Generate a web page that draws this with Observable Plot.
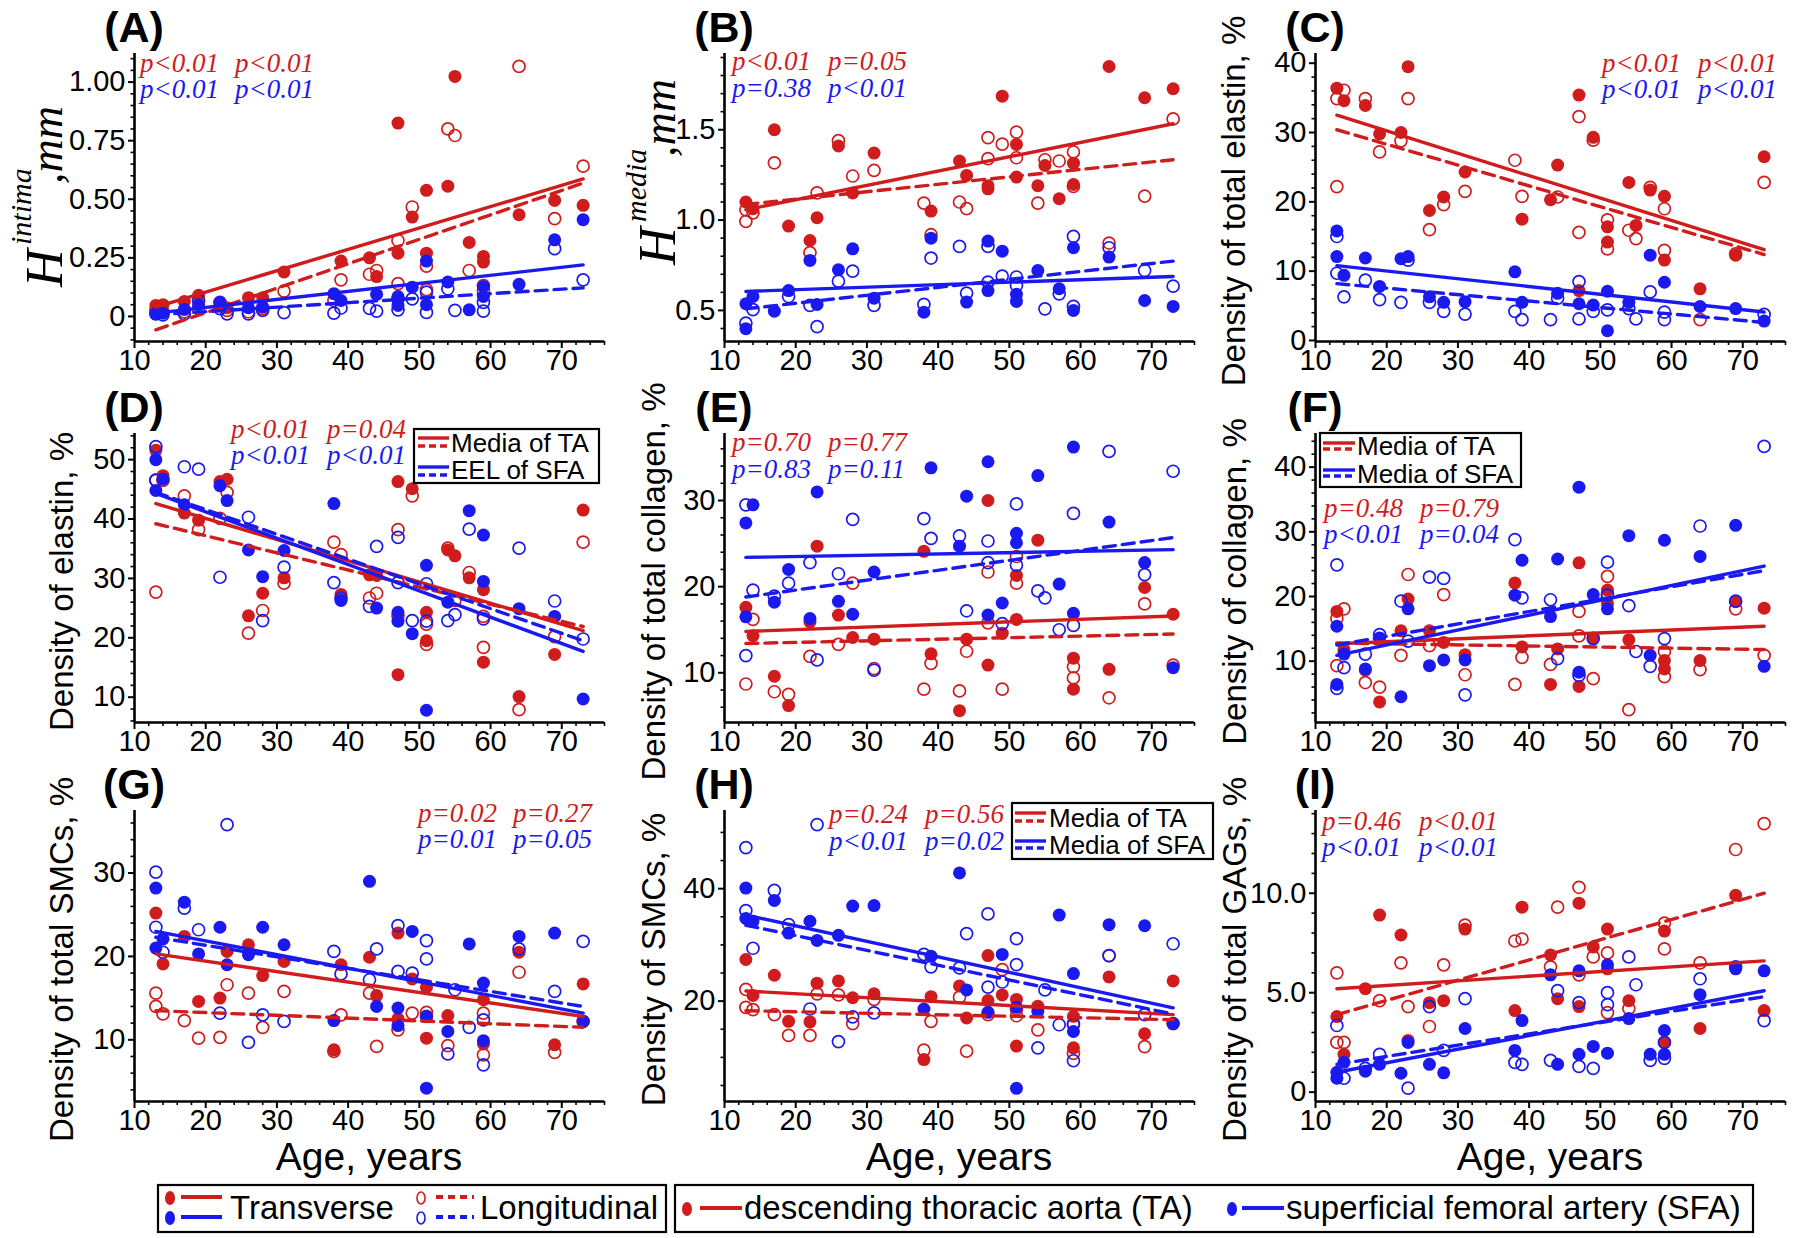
<!DOCTYPE html>
<html><head><meta charset="utf-8">
<script src="https://cdn.jsdelivr.net/npm/d3@7"></script>
<script src="https://cdn.jsdelivr.net/npm/@observablehq/plot@0.6"></script>
<style>
html,body{margin:0;padding:0;background:#fff;}
#fig{position:relative;width:1800px;height:1238px;overflow:hidden;background:#fff;}
#fig svg{position:absolute;overflow:visible;}
</style></head><body><div id="fig"></div>
<script>
// ---------------- DATA (age, value) ----------------
// RT = transverse (filled), RL = longitudinal (open); R = thoracic aorta (red), B = femoral artery (blue)
const A_RT = [[13,0.047],[14,0.05],[17,0.064],[19,0.09],[22,0.047],[23,0.037],[26,0.08],[28,0.08],[31,0.19],[39,0.236],[43,0.25],[44,0.17],[47,0.825],[47,0.27],[49,0.424],[51,0.538],[51,0.27],[54,0.556],[55,1.024],[57,0.316],[59,0.256],[59,0.232],[64,0.434],[69,0.495],[73,0.474]];
const A_RL = [[13,0.026],[14,0.02],[17,0.02],[19,0.033],[22,0.06],[23,0.026],[26,0.02],[28,0.033],[31,0.108],[38,0.068],[39,0.156],[43,0.18],[44,0.196],[47,0.324],[47,0.14],[49,0.467],[51,0.215],[51,0.114],[54,0.80],[55,0.772],[57,0.196],[59,0.132],[59,0.11],[64,1.067],[69,0.417],[73,0.641]];
const A_BT = [[13,0.011],[14,0.014],[17,0.03],[19,0.05],[22,0.06],[26,0.037],[28,0.04],[38,0.097],[39,0.068],[44,0.094],[47,0.085],[47,0.047],[49,0.125],[51,0.236],[51,0.05],[54,0.147],[57,0.028],[59,0.128],[59,0.085],[64,0.137],[69,0.327],[73,0.413]];
const A_BL = [[13,0.011],[14,0.007],[17,0.011],[19,0.068],[22,0.033],[23,0.011],[26,0.011],[28,0.026],[31,0.016],[38,0.014],[39,0.036],[43,0.034],[44,0.023],[47,0.028],[47,0.075],[49,0.075],[51,0.017],[51,0.104],[54,0.118],[55,0.026],[59,0.023],[59,0.06],[69,0.289],[73,0.156]];
const A_FIT = [[0.04,0.587],[-0.057,0.569],[0.014,0.22],[0.007,0.122]];

const B_RT = [[13,1.10],[14,1.063],[17,1.50],[19,0.967],[22,0.887],[23,1.013],[26,1.41],[28,1.15],[31,1.371],[39,1.05],[43,1.327],[44,1.247],[47,1.19],[47,1.173],[49,1.686],[51,1.419],[51,1.238],[54,1.19],[55,1.302],[57,1.118],[59,1.315],[59,1.197],[64,1.85],[69,1.677],[73,1.727]];
const B_RL = [[13,1.057],[13,0.993],[14,1.04],[17,1.317],[22,0.82],[23,1.151],[26,1.44],[28,1.244],[31,1.275],[38,1.094],[39,0.919],[43,1.10],[44,1.063],[47,1.456],[47,1.34],[49,1.42],[51,1.487],[51,1.345],[54,1.094],[55,1.334],[57,1.327],[59,1.377],[59,1.186],[64,0.873],[69,1.133],[73,1.56]];
const B_BT = [[13,0.537],[13,0.399],[14,0.577],[17,0.496],[19,0.61],[22,0.777],[23,0.533],[26,0.725],[28,0.841],[31,0.568],[38,0.49],[39,0.90],[44,0.546],[47,0.884],[47,0.61],[49,0.828],[51,0.589],[51,0.55],[54,0.721],[57,0.62],[59,0.847],[59,0.50],[64,0.795],[69,0.555],[73,0.522]];
const B_BL = [[13,0.43],[14,0.504],[19,0.577],[22,0.528],[23,0.41],[26,0.662],[28,0.718],[31,0.528],[38,0.533],[39,0.79],[43,0.854],[44,0.596],[47,0.854],[47,0.657],[49,0.69],[51,0.685],[51,0.638],[55,0.509],[57,0.592],[59,0.91],[59,0.522],[64,0.847],[69,0.721],[73,0.635]];
const B_FIT = [[1.057,1.533],[1.087,1.334],[0.605,0.688],[0.509,0.773]];

const C_RT = [[13,36.4],[14,34.6],[17,33.9],[19,29.8],[22,30.0],[23,39.5],[26,18.75],[28,20.7],[31,24.3],[39,17.5],[43,20.3],[44,25.3],[47,35.4],[47,7.2],[49,29.3],[51,16.4],[51,14.2],[54,22.8],[55,16.6],[57,21.7],[59,20.8],[59,11.6],[64,7.45],[69,12.3],[73,26.5]];
const C_RL = [[13,34.9],[13,22.2],[14,36.1],[17,34.9],[19,27.2],[22,28.8],[23,34.9],[26,16.0],[28,19.6],[31,21.5],[38,26.0],[39,20.8],[44,20.7],[47,32.3],[47,15.6],[49,28.9],[51,17.4],[51,13.2],[54,15.9],[55,14.7],[57,22.1],[59,19.0],[59,13.0],[64,3.0],[69,12.5],[73,22.8]];
const C_BT = [[13,15.8],[13,12.1],[14,9.4],[17,11.9],[19,7.8],[22,11.8],[23,12.1],[26,6.3],[28,5.5],[31,5.6],[38,9.9],[39,5.5],[44,6.8],[47,5.3],[49,5.1],[51,7.1],[51,1.4],[54,5.5],[57,12.3],[59,8.4],[64,4.9],[69,4.6],[73,2.8]];
const C_BL = [[13,15.0],[13,9.7],[14,6.3],[17,8.7],[19,5.9],[22,5.5],[23,11.6],[26,5.5],[28,4.2],[31,3.8],[38,4.2],[39,3.0],[43,3.0],[44,6.1],[47,8.5],[47,3.1],[49,4.2],[51,4.4],[54,4.6],[55,3.1],[57,7.0],[59,4.1],[59,3.0],[73,3.75]];
const C_FIT = [[32.5,13.1],[30.4,12.4],[10.8,4.1],[8.2,2.6]];

const D_RT = [[13,51.6],[14,47.3],[17,41.0],[19,39.8],[22,46.3],[23,46.7],[26,23.7],[28,27.5],[31,30.1],[39,27.3],[43,30.6],[44,30.5],[47,46.3],[47,13.8],[49,45.1],[51,24.3],[51,19.5],[54,34.8],[55,33.8],[57,30.1],[59,28.1],[59,15.9],[64,10.1],[69,17.2],[73,41.5]];
const D_RL = [[13,27.7],[13,46.6],[14,46.5],[17,43.9],[19,38.2],[22,40.1],[23,44.5],[26,20.8],[28,24.6],[31,29.2],[38,36.1],[39,34.0],[43,26.7],[44,27.5],[47,38.2],[47,23.7],[49,43.9],[51,22.3],[51,18.9],[54,35.1],[55,26.3],[57,31.0],[59,23.6],[59,18.4],[64,7.9],[69,20.2],[73,36.1]];
const D_BT = [[13,50.0],[13,44.8],[14,46.7],[17,42.4],[22,45.6],[23,43.1],[26,34.8],[28,30.3],[31,34.7],[38,42.6],[39,26.3],[44,25.0],[47,24.3],[47,22.8],[49,20.7],[51,32.2],[51,7.8],[54,26.0],[57,41.4],[59,37.3],[59,29.5],[64,24.9],[69,23.6],[73,9.7]];
const D_BL = [[13,52.2],[13,46.5],[17,48.8],[19,48.4],[22,30.2],[26,40.3],[28,22.9],[31,31.9],[38,29.3],[39,26.7],[43,25.3],[44,35.4],[47,36.9],[47,29.3],[49,22.9],[51,29.1],[51,22.8],[54,22.9],[55,23.9],[57,38.3],[59,23.2],[64,35.1],[69,26.2],[73,19.8]];
const D_FIT = [[42.6,21.2],[39.2,21.9],[44.3,17.7],[44.5,19.5]];

const E_RT = [[13,17.6],[14,14.3],[17,9.6],[19,6.2],[22,15.9],[23,24.7],[26,16.7],[28,14.1],[31,13.9],[38,24.1],[39,12.2],[43,5.6],[44,13.9],[47,30.0],[47,10.9],[49,14.6],[51,21.3],[51,16.2],[54,25.4],[59,11.7],[59,8.1],[64,10.4],[69,19.9],[73,16.8]];
const E_RL = [[13,8.7],[14,16.2],[17,7.8],[19,7.5],[22,11.9],[26,13.3],[28,20.4],[31,10.5],[38,8.1],[39,11.1],[43,7.9],[44,12.5],[47,21.7],[47,15.8],[49,8.1],[51,23.5],[51,20.4],[59,10.7],[59,9.4],[64,7.1],[69,18.0],[73,10.9]];
const E_BT = [[13,27.4],[13,16.5],[14,29.5],[17,18.2],[19,22.0],[22,16.3],[23,31.0],[26,18.3],[28,16.8],[31,21.7],[39,33.8],[43,24.7],[44,30.5],[47,34.5],[47,16.7],[49,18.1],[51,26.2],[51,25.1],[54,32.9],[57,20.3],[59,36.2],[59,16.9],[64,27.5],[69,22.8],[73,10.6]];
const E_BL = [[13,29.5],[13,12.0],[14,19.6],[17,18.9],[19,20.4],[22,22.8],[23,11.5],[26,21.5],[28,27.8],[31,10.3],[38,27.9],[39,25.6],[43,25.9],[44,17.2],[47,25.3],[47,22.8],[49,15.7],[51,29.6],[51,22.5],[54,19.5],[55,18.7],[57,15.0],[59,28.5],[59,15.5],[64,35.7],[69,21.4],[73,33.4]];
const E_FIT = [[14.8,16.6],[13.4,14.5],[23.4,24.3],[18.8,25.7]];

const F_RT = [[13,17.7],[14,11.8],[17,8.6],[19,3.7],[22,14.7],[23,19.6],[26,14.7],[28,12.9],[31,11.0],[38,22.1],[39,12.2],[43,6.4],[44,11.9],[47,25.2],[47,6.1],[49,13.6],[51,21.0],[51,18.9],[54,13.3],[59,10.1],[59,8.8],[64,10.1],[69,19.2],[73,18.2]];
const F_RL = [[13,16.6],[13,9.3],[14,18.1],[17,6.7],[19,6.0],[22,10.9],[23,23.4],[26,12.4],[28,20.3],[31,7.9],[38,6.4],[39,10.6],[43,9.5],[47,17.7],[47,13.9],[49,7.3],[51,23.1],[51,20.4],[54,2.5],[59,11.5],[59,7.6],[64,8.7],[69,18.1],[73,10.9]];
const F_BT = [[13,15.4],[13,6.4],[14,11.1],[17,8.8],[19,13.6],[22,4.5],[23,18.1],[26,9.3],[28,10.2],[31,10.2],[38,20.2],[39,25.6],[43,16.9],[44,25.8],[47,36.9],[47,8.3],[49,20.3],[51,18.1],[54,29.4],[57,10.9],[59,28.7],[64,26.2],[69,31.0],[73,9.2]];
const F_BL = [[13,24.9],[13,5.8],[14,9.0],[17,11.1],[19,14.1],[22,19.3],[23,13.1],[26,23.0],[28,22.8],[31,4.8],[38,28.8],[39,19.8],[43,19.5],[44,10.4],[47,7.8],[49,13.5],[51,25.3],[51,20.2],[54,18.6],[55,11.5],[57,9.2],[59,13.5],[64,30.9],[69,19.3],[73,43.2]];
const F_FIT = [[12.7,15.4],[12.8,11.8],[10.9,24.7],[12.5,24.0]];

const G_RT = [[13,25.2],[14,19.1],[17,22.4],[19,14.6],[22,15.0],[23,20.6],[26,21.4],[28,17.7],[31,19.4],[38,8.8],[39,19.0],[43,19.9],[44,15.3],[47,22.8],[47,12.5],[49,17.3],[51,16.3],[51,10.2],[54,12.9],[59,14.8],[59,9.5],[64,20.5],[69,9.4],[73,16.7]];
const G_RL = [[13,15.6],[13,14.0],[14,13.1],[17,12.3],[19,10.2],[22,10.3],[23,16.6],[26,15.6],[28,11.5],[31,15.8],[38,8.6],[39,13.0],[43,15.6],[44,9.2],[47,11.2],[49,13.2],[51,13.3],[51,12.8],[54,9.3],[59,13.2],[59,8.2],[64,18.1],[69,8.5],[73,12.2]];
const G_BT = [[13,28.2],[13,21.0],[14,22.1],[17,26.5],[19,20.3],[22,23.5],[23,19.0],[26,20.2],[28,23.5],[31,21.4],[38,12.3],[43,29.0],[44,14.0],[47,13.8],[47,11.7],[49,23.0],[51,12.8],[51,4.2],[54,11.0],[57,21.5],[59,16.8],[59,9.9],[64,22.4],[69,22.8],[73,12.2]];
const G_BL = [[13,30.1],[13,23.5],[14,20.5],[17,25.8],[19,23.2],[22,13.2],[23,35.8],[26,9.7],[28,13.0],[31,12.2],[38,20.6],[39,17.9],[43,17.2],[44,20.9],[47,23.7],[47,18.2],[49,18.0],[51,21.9],[51,19.7],[54,8.3],[55,16.0],[57,11.5],[59,12.4],[59,7.0],[64,20.9],[69,15.8],[73,21.8]];
const G_FIT = [[20.3,12.8],[13.5,11.5],[23.0,13.2],[22.3,14.0]];

const H_RT = [[13,27.4],[14,21.0],[17,24.6],[19,16.4],[22,16.3],[23,23.2],[26,23.6],[28,20.6],[31,21.3],[38,9.6],[39,20.8],[43,22.7],[44,17.0],[47,28.1],[47,20.1],[49,21.1],[51,20.3],[51,12.0],[54,19.1],[59,17.3],[59,11.7],[64,24.3],[69,14.2],[73,23.6]];
const H_RL = [[13,22.1],[13,18.9],[14,18.5],[17,17.6],[19,13.9],[22,13.9],[23,21.3],[26,21.1],[28,16.0],[31,20.3],[38,11.3],[39,16.4],[43,20.7],[44,11.1],[47,17.6],[49,25.6],[51,17.4],[51,18.6],[54,14.9],[59,16.0],[59,10.7],[64,28.1],[69,11.9],[73,16.0]];
const H_BT = [[13,40.1],[13,34.7],[14,34.2],[17,37.9],[19,32.1],[22,34.2],[23,30.8],[26,31.7],[28,36.9],[31,37.0],[38,18.6],[39,28.0],[43,42.8],[44,22.0],[47,18.0],[49,28.3],[51,18.9],[51,4.5],[54,18.2],[57,35.3],[59,24.9],[59,14.6],[64,33.6],[69,33.4],[73,16.0]];
const H_BL = [[13,47.3],[13,36.1],[14,29.4],[17,39.7],[19,33.6],[22,18.6],[23,51.4],[26,12.8],[28,17.2],[31,17.9],[38,28.3],[39,26.1],[43,25.9],[44,32.0],[47,35.5],[47,22.5],[49,23.4],[51,31.1],[51,26.5],[54,11.7],[55,22.0],[57,15.8],[59,15.8],[59,9.4],[64,28.1],[69,17.6],[73,30.2]];
const H_FIT = [[21.8,17.6],[18.3,16.7],[35.3,18.8],[33.5,17.7]];

const I_RT = [[13,3.8],[14,1.9],[17,5.2],[19,8.9],[22,7.9],[23,2.6],[26,4.5],[28,4.6],[31,8.2],[38,4.1],[39,9.3],[43,6.9],[44,4.7],[47,9.5],[47,4.3],[49,7.3],[51,8.2],[51,6.2],[54,4.6],[59,8.1],[59,2.5],[64,3.2],[69,9.9],[73,4.1]];
const I_RL = [[13,6.0],[13,2.5],[14,2.5],[19,4.6],[22,6.5],[23,4.3],[26,3.3],[28,6.4],[31,8.4],[38,7.6],[39,7.7],[43,6.3],[44,9.3],[47,10.3],[47,5.9],[49,6.8],[51,7.0],[51,4.0],[54,4.2],[59,8.5],[59,7.2],[64,6.5],[69,12.2],[73,13.5]];
const I_BT = [[13,1.0],[13,0.7],[14,1.5],[17,1.05],[19,1.4],[22,0.95],[23,2.5],[26,1.4],[28,0.97],[31,3.2],[38,2.1],[39,3.6],[43,5.9],[44,1.4],[47,6.1],[47,1.9],[49,2.3],[51,6.4],[51,1.96],[54,3.7],[57,1.9],[59,3.1],[59,1.9],[64,4.9],[69,6.2],[73,6.1]];
const I_BL = [[13,3.35],[14,0.7],[17,1.2],[19,1.9],[23,0.2],[26,4.3],[28,2.1],[31,4.7],[38,1.5],[39,1.4],[43,1.6],[44,5.1],[47,4.5],[47,1.3],[49,1.2],[51,5.0],[51,4.4],[54,6.8],[55,5.4],[57,1.6],[59,2.5],[59,1.7],[64,5.7],[69,6.3],[73,3.6]];
const I_FIT = [[5.2,6.6],[3.9,10.0],[1.0,5.1],[1.4,4.8]];

// p-values: [red transverse, red longitudinal, blue transverse, blue longitudinal]
const P_A = ["p<0.01","p<0.01","p<0.01","p<0.01"];
const P_B = ["p<0.01","p=0.05","p=0.38","p<0.01"];
const P_C = ["p<0.01","p<0.01","p<0.01","p<0.01"];
const P_D = ["p<0.01","p=0.04","p<0.01","p<0.01"];
const P_E = ["p=0.70","p=0.77","p=0.83","p=0.11"];
const P_F = ["p=0.48","p=0.79","p<0.01","p=0.04"];
const P_G = ["p=0.02","p=0.27","p=0.01","p=0.05"];
const P_H = ["p=0.24","p=0.56","p<0.01","p=0.02"];
const P_I = ["p=0.46","p<0.01","p<0.01","p<0.01"];

const FIT_AGES = [13, 73];
const X_DOMAIN = [10, 76];
const X_MAJOR = [10, 20, 30, 40, 50, 60, 70];

// ---------------- STYLE / LAYOUT ----------------
const RED = "#d01c1c", BLUE = "#1a1af0";
const SANS = "'Liberation Sans', Arial, Helvetica, sans-serif";
const SERIF = "'Liberation Serif', 'Times New Roman', serif";
const COLS = [134, 724, 1315];
const ROWS = [[53, 341], [433, 722], [810, 1101]];
const ML = 125, MR = 15, MT = 60, MB = 60, PW = 470;

function rangeTicks(a, b, step, major) {
  const out = [];
  for (let v = a; v <= b + 1e-9; v += step) {
    const r = +v.toFixed(4);
    if (!major.some(m => Math.abs(m - r) < 1e-6)) out.push(r);
  }
  return out;
}
const X_MINOR = rangeTicks(12, 76, 2, X_MAJOR);

const PANELS = [
  {id:"(A)", row:0, col:0, rt:A_RT, rl:A_RL, bt:A_BT, bl:A_BL, fit:A_FIT, p:P_A, domain:[-0.107,1.122], major:[0,0.25,0.5,0.75,1], fmt:d=>d===0?"0":d.toFixed(2), minor:[-0.1,1.1,0.05],
   math:{main:"H", sup:"intima", unit:",mm", hx:-72, hy:-54, sx:-103, sy:-96, uy:-157}, pPos:[6,101,72,98]},
  {id:"(B)", row:0, col:1, rt:B_RT, rl:B_RL, bt:B_BT, bl:B_BL, fit:B_FIT, p:P_B, domain:[0.328,1.922], major:[0.5,1,1.5], fmt:d=>d.toFixed(1), minor:[0.4,1.9,0.1],
   math:{main:"H", sup:"media", unit:",mm", hx:-49, hy:-76, sx:-78, sy:-119, uy:-184}, pPos:[8,104,70,97]},
  {id:"(C)", row:0, col:2, rt:C_RT, rl:C_RL, bt:C_BT, bl:C_BL, fit:C_FIT, p:P_C, domain:[-0.15,41.4], major:[0,10,20,30,40], fmt:d=>String(d), minor:[2,40,2],
   label:"Density of total elastin, %", lx:-70, pPos:[287,383,72,98]},
  {id:"(D)", row:1, col:0, rt:D_RT, rl:D_RL, bt:D_BT, bl:D_BL, fit:D_FIT, p:P_D, domain:[5.74,54.4], major:[10,20,30,40,50], fmt:d=>String(d), minor:[6,54,2],
   label:"Density of elastin, %", lx:-61, pPos:[97,193,438,464],
   legend:{box:[414,429,599,483], lx:[418,449], ly:[438,446,467,475], tx:451, ty:[452,479], labels:["Media of TA","EEL of SFA"]}},
  {id:"(E)", row:1, col:1, rt:E_RT, rl:E_RL, bt:E_BT, bl:E_BL, fit:E_FIT, p:P_E, domain:[4.23,37.78], major:[10,20,30], fmt:d=>String(d), minor:[6,36,2],
   label:"Density of total collagen, %", lx:-59, pPos:[8,104,451,478]},
  {id:"(F)", row:1, col:2, rt:F_RT, rl:F_RL, bt:F_BT, bl:F_BL, fit:F_FIT, p:P_F, domain:[0.52,45.2], major:[10,20,30,40], fmt:d=>String(d), minor:[2,44,2],
   label:"Density of collagen, %", lx:-69, pPos:[9,105,517,543],
   legend:{box:[1320,433,1521,487], lx:[1323,1355], ly:[443,449,470,476], tx:1357, ty:[455,483], labels:["Media of TA","Media of SFA"]}},
  {id:"(G)", row:2, col:0, rt:G_RT, rl:G_RL, bt:G_BT, bl:G_BL, fit:G_FIT, p:P_G, domain:[2.6,37.5], major:[10,20,30], fmt:d=>String(d), minor:[4,36,2],
   label:"Density of total SMCs, %", lx:-61, pPos:[284,379,822,848]},
  {id:"(H)", row:2, col:1, rt:H_RT, rl:H_RL, bt:H_BT, bl:H_BL, fit:H_FIT, p:P_H, domain:[2.15,53.9], major:[20,40], fmt:d=>String(d), minor:[5,50,5],
   label:"Density of SMCs, %", lx:-59, pPos:[105,201,823,850],
   legend:{box:[1012,803,1213,859], lx:[1015,1046], ly:[813,821,841,848], tx:1049, ty:[827,854], labels:["Media of TA","Media of SFA"]}},
  {id:"(I)", row:2, col:2, rt:I_RT, rl:I_RL, bt:I_BT, bl:I_BL, fit:I_FIT, p:P_I, domain:[-0.47,14.16], major:[0,5,10], fmt:d=>d===0?"0":d.toFixed(1), minor:[1,14,1],
   label:"Density of total GAGs, %", lx:-69, pPos:[7,104,830,856]}
];

const fig = document.getElementById("fig");
const DASH = "12,7";

function toRows(arr) { return arr.map(([age, v]) => ({age, v})); }

function drawPanel(P) {
  const [top, bottom] = ROWS[P.row];
  const axisX = COLS[P.col];
  const ph = bottom - top;
  const fits = P.fit.map(f => FIT_AGES.map((age, j) => ({age, v: f[j]})));
  const lineStyles = [
    {stroke: RED}, {stroke: RED, strokeDasharray: DASH},
    {stroke: BLUE}, {stroke: BLUE, strokeDasharray: DASH}
  ];
  const yMinor = rangeTicks(P.minor[0], P.minor[1], P.minor[2], P.major);
  const svg = Plot.plot({
    width: ML + PW + MR, height: MT + ph + MB,
    marginLeft: ML, marginRight: MR, marginTop: MT, marginBottom: MB,
    x: {domain: X_DOMAIN},
    y: {domain: P.domain},
    style: {fontFamily: SANS, fontSize: "29px", background: "transparent", overflow: "visible", color: "black"},
    marks: [
      Plot.dot(toRows(P.rt), {x: "age", y: "v", r: 6.5, fill: RED}),
      Plot.dot(toRows(P.rl), {x: "age", y: "v", r: 6, fill: "none", stroke: RED, strokeWidth: 1.7}),
      Plot.dot(toRows(P.bt), {x: "age", y: "v", r: 6.5, fill: BLUE}),
      Plot.dot(toRows(P.bl), {x: "age", y: "v", r: 6, fill: "none", stroke: BLUE, strokeWidth: 1.7}),
      ...fits.map((f, i) => Plot.line(f, {x: "age", y: "v", strokeWidth: 3.4, ...lineStyles[i]})),
      Plot.axisX(X_MAJOR, {tickSize: 7, tickPadding: 1, strokeWidth: 2, label: null, fontSize: 29}),
      Plot.axisX(X_MINOR, {tickSize: 4, strokeWidth: 1.6, label: null, tickFormat: () => ""}),
      Plot.axisY(P.major, {tickSize: 6, tickPadding: 3, strokeWidth: 2, label: null, tickFormat: P.fmt, fontSize: 29}),
      Plot.axisY(yMinor, {tickSize: 3.5, strokeWidth: 1.6, label: null, tickFormat: () => ""}),
      Plot.ruleY([P.domain[0]], {stroke: "black", strokeWidth: 2.6}),
      Plot.ruleX([X_DOMAIN[0]], {stroke: "black", strokeWidth: 2.6})
    ]
  });
  svg.style.left = (axisX - ML) + "px";
  svg.style.top = (top - MT) + "px";
  fig.appendChild(svg);
}

PANELS.forEach(drawPanel);

// ---------------- OVERLAY: texts & legends ----------------
const ov = d3.create("svg").attr("width", 1800).attr("height", 1238)
  .style("left", "0px").style("top", "0px").style("pointer-events", "none");

PANELS.forEach(P => {
  const [top, bottom] = ROWS[P.row];
  const ax = COLS[P.col];
  // panel letter
  ov.append("text").attr("x", ax).attr("y", top - 11).attr("text-anchor", "middle")
    .attr("font-family", SANS).attr("font-weight", "bold").attr("font-size", 43).text(P.id);
  // y label
  if (P.math) {
    const m = P.math;
    const t = (x, y, s, txt) => ov.append("text").attr("transform", `translate(${ax + x},${bottom + y}) rotate(-90)`)
      .attr("font-family", SERIF).attr("font-style", "italic").attr("font-size", s).text(txt);
    t(m.hx, m.hy, 52, m.main);
    t(m.sx, m.sy, 30, m.sup);
    t(m.hx, m.uy, 46, m.unit);
  } else {
    ov.append("text").attr("transform", `translate(${ax + P.lx},${(top + bottom) / 2 + 4}) rotate(-90)`)
      .attr("text-anchor", "middle").attr("font-family", SANS).attr("font-size", 33).text(P.label);
  }
  // p-values
  const [x1, x2, y1, y2] = P.pPos;
  const pv = [[x1, y1, RED, P.p[0]], [x2, y1, RED, P.p[1]], [x1, y2, BLUE, P.p[2]], [x2, y2, BLUE, P.p[3]]];
  pv.forEach(([x, y, c, s]) => ov.append("text").attr("x", ax + x).attr("y", y)
    .attr("font-family", SERIF).attr("font-style", "italic").attr("font-size", 27).attr("fill", c).text(s));
  // x label
  if (P.row === 2) {
    ov.append("text").attr("x", ax + PW / 2).attr("y", 1170).attr("text-anchor", "middle")
      .attr("font-family", SANS).attr("font-size", 39).text("Age, years");
  }
  // inset legend
  if (P.legend) {
    const L = P.legend;
    ov.append("rect").attr("x", L.box[0]).attr("y", L.box[1]).attr("width", L.box[2] - L.box[0]).attr("height", L.box[3] - L.box[1])
      .attr("fill", "white").attr("stroke", "black").attr("stroke-width", 2.2);
    const cols = [RED, RED, BLUE, BLUE];
    L.ly.forEach((y, i) => ov.append("line").attr("x1", L.lx[0]).attr("x2", L.lx[1]).attr("y1", y).attr("y2", y)
      .attr("stroke", cols[i]).attr("stroke-width", 3.4).attr("stroke-dasharray", i % 2 ? "7,4" : null));
    L.labels.forEach((s, i) => ov.append("text").attr("x", L.tx).attr("y", L.ty[i])
      .attr("font-family", SANS).attr("font-size", 26).text(s));
  }
});

// bottom legend
const LEG_LABELS = ["Transverse", "Longitudinal", "descending thoracic aorta (TA)", "superficial femoral artery (SFA)"];
ov.append("rect").attr("x", 158).attr("y", 1185).attr("width", 508).attr("height", 47)
  .attr("fill", "white").attr("stroke", "black").attr("stroke-width", 2.2);
ov.append("rect").attr("x", 675).attr("y", 1185).attr("width", 1078).attr("height", 47)
  .attr("fill", "white").attr("stroke", "black").attr("stroke-width", 2.2);
[[1198, RED], [1218, BLUE]].forEach(([y, c]) => {
  ov.append("ellipse").attr("cx", 170).attr("cy", y).attr("rx", 5).attr("ry", 7).attr("fill", c);
  ov.append("line").attr("x1", 181).attr("x2", 222).attr("y1", y - 1).attr("y2", y - 1).attr("stroke", c).attr("stroke-width", 4);
  ov.append("ellipse").attr("cx", 421).attr("cy", y).attr("rx", 4).attr("ry", 6).attr("fill", "none").attr("stroke", c).attr("stroke-width", 1.6);
  ov.append("line").attr("x1", 436).attr("x2", 474).attr("y1", y - 1).attr("y2", y - 1).attr("stroke", c).attr("stroke-width", 4).attr("stroke-dasharray", "7,5");
});
ov.append("text").attr("x", 230).attr("y", 1219).attr("font-family", SANS).attr("font-size", 33).text(LEG_LABELS[0]);
ov.append("text").attr("x", 480).attr("y", 1219).attr("font-family", SANS).attr("font-size", 33).text(LEG_LABELS[1]);
[[687, 700, 742, 744, RED, LEG_LABELS[2]], [1232, 1242, 1284, 1286, BLUE, LEG_LABELS[3]]].forEach(([cx, lx1, lx2, tx, c, s]) => {
  ov.append("ellipse").attr("cx", cx).attr("cy", 1209).attr("rx", 5).attr("ry", 7).attr("fill", c);
  ov.append("line").attr("x1", lx1).attr("x2", lx2).attr("y1", 1208).attr("y2", 1208).attr("stroke", c).attr("stroke-width", 4);
  ov.append("text").attr("x", tx).attr("y", 1219).attr("font-family", SANS).attr("font-size", 33).text(s);
});

fig.appendChild(ov.node());
</script></body></html>
